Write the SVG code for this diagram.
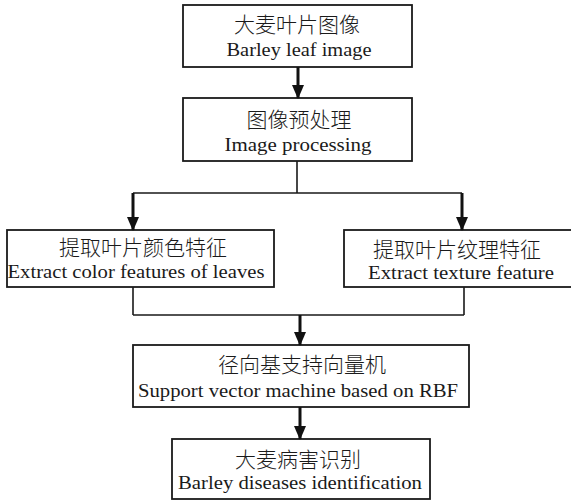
<svg xmlns="http://www.w3.org/2000/svg" width="571" height="501" viewBox="0 0 571 501">
<style>
.box{fill:#fff;stroke:#1a1a1a;stroke-width:1.8}
.zh{font-family:"Noto Sans CJK SC","Noto Sans CJK TC",sans-serif;font-size:21px;font-weight:300;fill:#1a1a1a;text-anchor:middle}
.en{font-family:"Liberation Serif",serif;font-size:19px;fill:#1a1a1a;text-anchor:middle}
.ln{fill:none;stroke:#1a1a1a;stroke-width:1.6}
.ar{fill:none;stroke:#111;stroke-width:3;marker-end:url(#ah)}
</style>
<defs>
<marker id="ah" markerUnits="userSpaceOnUse" markerWidth="14" markerHeight="12" refX="13" refY="6" orient="auto" viewBox="0 0 14 12">
<path d="M0,0 L14,6 L0,12 Z" fill="#111"/>
</marker>
</defs>
<rect width="571" height="501" fill="#fff"/>
<g id="connectors">
<path class="ln" d="M297,161 V193 M133,193 H462 M133,287 V315 M464,287 V315 M133,315 H464"/>
</g>
<g id="n1">
<rect class="box" x="183" y="5" width="229" height="62"/>
<text class="zh" x="297" y="32">大麦叶片图像</text>
<text class="en" x="299" y="56" textLength="145" lengthAdjust="spacingAndGlyphs">Barley leaf image</text>
</g>
<g id="n2">
<rect class="box" x="183" y="98" width="229" height="63"/>
<text class="zh" x="299" y="127">图像预处理</text>
<text class="en" x="298" y="151" textLength="147" lengthAdjust="spacingAndGlyphs">Image processing</text>
</g>
<g id="n3">
<rect class="box" x="7" y="230" width="267" height="57"/>
<text class="zh" x="143" y="255">提取叶片颜色特征</text>
<text class="en" x="136" y="278" textLength="257" lengthAdjust="spacingAndGlyphs">Extract color features of leaves</text>
</g>
<g id="n4">
<rect class="box" x="344" y="230" width="230" height="57"/>
<text class="zh" x="457" y="257">提取叶片纹理特征</text>
<text class="en" x="461" y="279" textLength="186" lengthAdjust="spacingAndGlyphs">Extract texture feature</text>
</g>
<g id="n5">
<rect class="box" x="133" y="345" width="336" height="62"/>
<text class="zh" x="302" y="372">径向基支持向量机</text>
<text class="en" x="298" y="397" textLength="320" lengthAdjust="spacingAndGlyphs">Support vector machine based on RBF</text>
</g>
<g id="n6">
<rect class="box" x="172" y="439" width="258" height="60"/>
<text class="zh" x="298" y="467">大麦病害识别</text>
<text class="en" x="300" y="489" textLength="244" lengthAdjust="spacingAndGlyphs">Barley diseases identification</text>
</g>
<g id="arrows">
<path class="ar" d="M298,67 V98"/>
<path class="ar" d="M133,193 V230"/>
<path class="ar" d="M462,193 V230"/>
<path class="ar" d="M300,315 V345"/>
<path class="ar" d="M300,407 V439"/>
</g>
</svg>
